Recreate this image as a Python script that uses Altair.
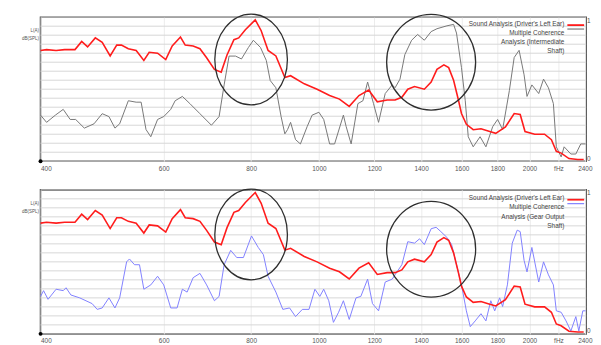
import altair as alt
import pandas as pd

# ---------------- data ----------------
freq_red = [400, 408, 421, 433, 448, 458, 467, 479, 490, 503, 514, 522, 534, 548, 562,
            572, 588, 604, 617, 634, 644, 661, 676, 691, 709, 725, 739, 756, 768, 785,
            811, 827, 846, 868, 894, 911, 953, 994, 1036, 1070, 1105, 1141, 1178, 1212, 1252,
            1285, 1314, 1340, 1370, 1415, 1447, 1475, 1509, 1533, 1558, 1583, 1599, 1625, 1662, 1705,
            1755, 1790, 1848, 1902, 1940, 1971, 2035, 2102, 2150, 2185, 2220, 2278, 2345, 2391]
level_red = [12.3, 12.4, 12.3, 12.4, 12.4, 13.3, 12.7, 13.7, 13.2, 11.7, 12.9, 12.9, 12.5, 12.3, 11.2,
             12.1, 12.0, 11.3, 12.8, 13.8, 12.9, 12.8, 12.5, 11.5, 10.2, 9.9, 11.8, 13.5, 13.7, 14.6,
             15.7, 14.5, 12.3, 11.7, 9.3, 9.5, 8.6, 8.0, 7.3, 6.9, 6.1, 7.3, 7.9, 6.6, 6.8,
             6.8, 7.1, 8.0, 8.3, 8.0, 8.8, 10.2, 10.7, 10.4, 9.0, 6.8, 5.3, 4.1, 3.5, 3.6,
             3.3, 3.1, 3.8, 5.3, 5.2, 3.3, 3.0, 3.0, 2.4, 1.1, 0.9, 0.3, 0.2, 0.2]

freq_grey = [400, 408, 420, 431, 441, 449, 462, 477, 490, 501, 511, 519, 534, 548, 557,
             566, 575, 588, 600, 614, 623, 638, 654, 676, 702, 720, 732, 744, 760, 775,
             793, 806, 825, 841, 852, 868, 883, 894, 902, 911, 926, 941, 962, 978, 1000,
             1016, 1036, 1053, 1084, 1094, 1112, 1137, 1156, 1174, 1197, 1217, 1244, 1273, 1285, 1306,
             1327, 1357, 1384, 1415, 1447, 1475, 1524, 1558, 1573, 1599, 1619, 1635, 1662, 1700, 1733,
             1772, 1801, 1831, 1872, 1902, 1933, 1965, 1984, 2016, 2062, 2095, 2129, 2164, 2185, 2220,
             2242, 2292, 2330, 2368, 2406]
coh_grey = [0.32, 0.27, 0.32, 0.36, 0.29, 0.29, 0.23, 0.26, 0.33, 0.31, 0.23, 0.26, 0.42, 0.41, 0.41,
            0.22, 0.17, 0.29, 0.31, 0.36, 0.42, 0.45, 0.40, 0.33, 0.25, 0.31, 0.53, 0.73, 0.73, 0.71,
            0.79, 0.84, 0.79, 0.70, 0.56, 0.51, 0.31, 0.19, 0.22, 0.27, 0.15, 0.12, 0.24, 0.32, 0.34,
            0.29, 0.12, 0.12, 0.32, 0.24, 0.12, 0.40, 0.42, 0.55, 0.40, 0.27, 0.47, 0.53, 0.51, 0.57,
            0.74, 0.84, 0.88, 0.84, 0.90, 0.92, 0.94, 0.95, 0.89, 0.65, 0.42, 0.17, 0.10, 0.17, 0.10,
            0.24, 0.29, 0.22, 0.49, 0.72, 0.77, 0.60, 0.45, 0.53, 0.47, 0.57, 0.51, 0.40, 0.10, 0.03,
            0.10, 0.05, 0.05, 0.12, 0.12]

freq_blue = [400, 404, 410, 421, 431, 435, 442, 455, 474, 482, 490, 501, 511, 519, 531,
             536, 545, 554, 562, 575, 588, 600, 614, 627, 638, 648, 661, 676, 691, 709,
             720, 732, 748, 763, 780, 801, 819, 833, 846, 868, 888, 908, 926, 947, 968,
             987, 1003, 1016, 1033, 1049, 1067, 1084, 1105, 1130, 1148, 1174, 1193, 1217, 1244, 1273,
             1285, 1314, 1340, 1370, 1393, 1415, 1447, 1471, 1494, 1524, 1548, 1573, 1599, 1625, 1646,
             1673, 1705, 1733, 1761, 1784, 1813, 1831, 1860, 1890, 1921, 1940, 1965, 1984, 2016, 2062,
             2095, 2129, 2164, 2185, 2220, 2256, 2292, 2330, 2353, 2384, 2406]
coh_blue = [0.26, 0.30, 0.24, 0.31, 0.30, 0.32, 0.27, 0.25, 0.21, 0.17, 0.18, 0.25, 0.18, 0.25, 0.50,
            0.52, 0.48, 0.48, 0.31, 0.34, 0.40, 0.34, 0.18, 0.18, 0.31, 0.29, 0.39, 0.42, 0.34, 0.23,
            0.26, 0.48, 0.58, 0.53, 0.53, 0.68, 0.60, 0.55, 0.40, 0.29, 0.17, 0.18, 0.12, 0.17, 0.17,
            0.31, 0.26, 0.31, 0.23, 0.08, 0.15, 0.23, 0.10, 0.25, 0.26, 0.38, 0.21, 0.16, 0.36, 0.38,
            0.41, 0.48, 0.64, 0.63, 0.66, 0.62, 0.73, 0.74, 0.71, 0.67, 0.62, 0.48, 0.34, 0.16, 0.05,
            0.09, 0.14, 0.09, 0.23, 0.16, 0.25, 0.19, 0.34, 0.63, 0.72, 0.71, 0.51, 0.43, 0.60, 0.36,
            0.50, 0.41, 0.34, 0.16, 0.15, 0.09, 0.02, 0.12, 0.02, 0.16, 0.16]

tick_values = [400, 600, 800, 1000, 1200, 1400, 1600, 1800, 2000, 2200, 2400]
tick_labels = ["400", "600", "800", "1000", "1200", "1400", "1600", "1800", "2000", "fHz", "2400"]
grid_steps = 16
coh_ticks = [0, 1]

left_title = ["L(A)", "dB(SPL)"]
legend_top = ["Sound Analysis (Driver's Left Ear)", "Multiple Coherence",
              "Analysis (Intermediate", "Shaft)"]
legend_bottom = ["Sound Analysis (Driver's Left Ear)", "Multiple Coherence",
                 "Analysis (Gear Output", "Shaft)"]

circle_freq = [800, 1447]
circle_level_top = [11.3, 11.0]
circle_level_bottom = [11.05, 9.4]

# ---------------- styling ----------------
RED = "#ff1c1c"
GREY = "#777777"
BLUE = "#8080ff"
FONT = "Liberation Sans"
W, H = 553, 146


def ellipse_path(a, b=1.0, k=0.5523):
    return (f"M{a},0 C{a},{k*b} {k*a},{b} 0,{b} C{-k*a},{b} {-a},{k*b} {-a},0 "
            f"C{-a},{-k*b} {-k*a},{-b} 0,{-b} C{k*a},{-b} {a},{-k*b} {a},0 Z")


circle_shapes = [ellipse_path(0.80), ellipse_path(0.93)]
circle_sizes = [92 ** 2, 97 ** 2]

label_expr = "".join(f"datum.value == {v} ? '{l}' : " for v, l in zip(tick_values, tick_labels)) + "datum.label"

X = alt.X("freq:Q",
          scale=alt.Scale(type="log", domain=[400, 2410], nice=False, zero=False),
          axis=alt.Axis(values=tick_values, labelExpr=label_expr, labelFlush=True,
                        grid=True, gridColor="#ececec", gridWidth=1, ticks=False, domain=False,
                        labelFontSize=6.5, labelColor="#555", labelFont=FONT,
                        labelPadding=4, title=None))

Y_LEFT = alt.Y("level:Q",
               scale=alt.Scale(domain=[0, 16], nice=False, zero=False),
               axis=alt.Axis(grid=False, labels=False, ticks=False, domain=False,
                             title=left_title, titleAngle=0, titleAlign="right",
                             titleBaseline="top", titleX=-2, titleY=11,
                             titleFontSize=4.6, titleFontWeight="normal", titleColor="#555",
                             titleFont=FONT, titleLineHeight=8))

Y_RIGHT = alt.Y("coh:Q",
                scale=alt.Scale(domain=[0, 1], nice=False, zero=False),
                axis=alt.Axis(orient="right", values=coh_ticks, format="d", labelFlush=True,
                              grid=False, ticks=False, domain=False, title=None,
                              labelFontSize=6.5, labelColor="#555", labelFont=FONT,
                              labelPadding=0.5))

red_df = pd.DataFrame({"freq": freq_red, "level": level_red})
grid_df = pd.DataFrame({"coh": [i / grid_steps for i in range(grid_steps + 1)]})


def panel(coh_freq, coh_vals, coh_color, legend_lines, circle_levels, leg_y):
    coh_df = pd.DataFrame({"freq": coh_freq, "coh": coh_vals})
    grid = alt.Chart(grid_df).mark_rule(color="#d6d6d6", strokeWidth=1).encode(y=Y_RIGHT)
    coh_line = alt.Chart(coh_df).mark_line(color=coh_color, strokeWidth=1).encode(x=X, y=Y_RIGHT)
    right_layer = alt.layer(grid, coh_line)

    red_line = alt.Chart(red_df).mark_line(color=RED, strokeWidth=1.6).encode(x=X, y=Y_LEFT)
    layers = [red_line]
    for f, lv, shp, sz in zip(circle_freq, circle_levels, circle_shapes, circle_sizes):
        cdf = pd.DataFrame({"freq": [f], "level": [lv]})
        layers.append(alt.Chart(cdf).mark_point(shape=shp, size=sz, filled=False, stroke="#2e2e2e",
                                                strokeWidth=1.3, opacity=1).encode(x=X, y=Y_LEFT))
    dot_df = pd.DataFrame({"freq": [400], "level": [0]})
    layers.append(alt.Chart(dot_df).mark_point(filled=True, color="black", size=16, opacity=1)
                  .encode(x=X, y=Y_LEFT))
    left_layer = alt.layer(*layers)

    one = pd.DataFrame({"k": [0]})
    legend_text = alt.Chart(one).mark_text(align="right", baseline="top", fontSize=6.5,
                                           lineHeight=9.4, color="#444", font=FONT).encode(
        x=alt.value(531), y=alt.value(leg_y), text=alt.value(legend_lines))
    sw_red = alt.Chart(one).mark_rule(color=RED, strokeWidth=1.8).encode(
        x=alt.value(534), x2=alt.value(551), y=alt.value(leg_y + 4.5))
    sw_coh = alt.Chart(one).mark_rule(color=coh_color, strokeWidth=1.2).encode(
        x=alt.value(534), x2=alt.value(551), y=alt.value(leg_y + 8.5))

    return alt.layer(right_layer, left_layer, legend_text, sw_red, sw_coh).resolve_scale(
        y="independent").properties(width=W, height=H)


top = panel(freq_grey, coh_grey, GREY, legend_top, circle_level_top, 3.5)
bottom = panel(freq_blue, coh_blue, BLUE, legend_bottom, circle_level_bottom, 5.5)

chart = alt.vconcat(top, bottom, spacing=29, bounds="flush").properties(
    padding={"left": 12, "top": 0, "right": 0, "bottom": 0}
).configure_view(stroke="#3a3a3a", strokeWidth=1.6)

chart.save("out.html", embed_options={"renderer": "svg", "actions": False})
